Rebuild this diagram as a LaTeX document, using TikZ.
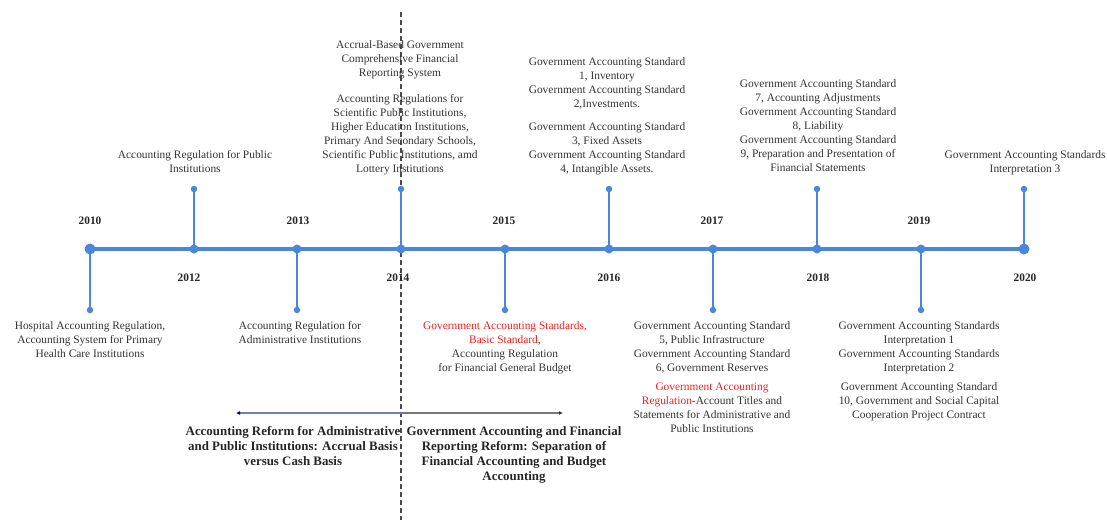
\documentclass[tikz,border=0pt]{standalone}
\usepackage{fontspec}
\setmainfont{Liberation Serif}
\usetikzlibrary{arrows.meta}

\definecolor{lineblue}{RGB}{74,134,218}
\definecolor{notered}{RGB}{238,32,32}
\definecolor{reformblue}{RGB}{112,128,178}
\definecolor{reformgray}{RGB}{120,120,120}

\tikzset{
    yeardot/.style={circle, fill=lineblue, minimum size=9pt, inner sep=0pt},
    bigdot/.style={circle, fill=lineblue, minimum size=11pt, inner sep=0pt},
    tipdot/.style={circle, fill=lineblue, minimum size=6.5pt, inner sep=0pt},
    stem/.style={lineblue, line width=2pt},
    yearlabel/.style={font=\fontsize{11.4}{14}\selectfont\bfseries, inner sep=0pt, text=black!85},
    note/.style={font=\fontsize{11.4}{14}\selectfont, align=center, inner sep=0pt, anchor=north, text=black!80},
    reform/.style={font=\fontsize{12.9}{15}\selectfont\bfseries, align=center, inner sep=0pt, anchor=north, text=black!85},
}

\begin{document}
\begin{tikzpicture}[x=1pt, y=-1pt]

\useasboundingbox (0,0) rectangle (1107,520);

% dashed divider
\coordinate (dtop) at (401,12);
\coordinate (dbot) at (401,520);
\draw[black!70, line width=1.2pt, dash pattern=on 5pt off 3pt] (dtop) -- (dbot);

% timeline points
\node[bigdot]  (p2010) at (90,249) {};
\node[yeardot] (p2012) at (194,249) {};
\node[yeardot] (p2013) at (297,249) {};
\node[yeardot] (p2014) at (401,249) {};
\node[yeardot] (p2015) at (505,249) {};
\node[yeardot] (p2016) at (609,249) {};
\node[yeardot] (p2017) at (713,249) {};
\node[yeardot] (p2018) at (817,249) {};
\node[yeardot] (p2019) at (921,249) {};
\node[bigdot]  (p2020) at (1024,249) {};

\draw[lineblue, line width=4pt] (p2010.center) -- (p2020.center);

% stem ends
\node[tipdot] (e2010) at (90,310) {};
\node[tipdot] (e2012) at (194,189) {};
\node[tipdot] (e2013) at (297,310) {};
\node[tipdot] (e2014) at (401,189) {};
\node[tipdot] (e2015) at (505,310) {};
\node[tipdot] (e2016) at (609,189) {};
\node[tipdot] (e2017) at (713,310) {};
\node[tipdot] (e2018) at (817,189) {};
\node[tipdot] (e2019) at (921,310) {};
\node[tipdot] (e2020) at (1024,189) {};

\draw[stem] (p2010.center) -- (e2010.center);
\draw[stem] (p2012.center) -- (e2012.center);
\draw[stem] (p2013.center) -- (e2013.center);
\draw[stem] (p2014.center) -- (e2014.center);
\draw[stem] (p2015.center) -- (e2015.center);
\draw[stem] (p2016.center) -- (e2016.center);
\draw[stem] (p2017.center) -- (e2017.center);
\draw[stem] (p2018.center) -- (e2018.center);
\draw[stem] (p2019.center) -- (e2019.center);
\draw[stem] (p2020.center) -- (e2020.center);

% years
\node[yearlabel] (y2010) at (90,221) {2010};
\node[yearlabel] (y2012) at (189,278) {2012};
\node[yearlabel] (y2013) at (298,221) {2013};
\node[yearlabel] (y2014) at (398,278) {2014};
\node[yearlabel] (y2015) at (504,221) {2015};
\node[yearlabel] (y2016) at (609,278) {2016};
\node[yearlabel] (y2017) at (712,221) {2017};
\node[yearlabel] (y2018) at (818,278) {2018};
\node[yearlabel] (y2019) at (919,221) {2019};
\node[yearlabel] (y2020) at (1025,278) {2020};

% events
\node[note] (t2010) at (90,321) {Hospital Accounting Regulation,\\Accounting System for Primary\\Health Care Institutions};
\node[note] (t2012) at (195,150) {Accounting Regulation for Public\\Institutions};
\node[note] (t2013) at (300,321) {Accounting Regulation for\\Administrative Institutions};
\node[note] (t2014) at (400,40) {Accrual-Based Government\\Comprehensive Financial\\Reporting System\\[12pt]
    Accounting Regulations for\\Scientific Public Institutions,\\Higher Education Institutions,\\Primary And Secondary Schools,\\Scientific Public Institutions, amd\\Lottery Institutions};
\node[note] (t2015) at (505,321) {\textcolor{notered}{Government Accounting Standards,}\\\textcolor{notered}{Basic Standard},\\Accounting Regulation\\for Financial General Budget};
\node[note] (t2016) at (607,57) {Government Accounting Standard\\1, Inventory\\Government Accounting Standard\\2,Investments.\\[9pt]
    Government Accounting Standard\\3, Fixed Assets\\Government Accounting Standard\\4, Intangible Assets.};
\node[note] (t2017) at (712,321) {Government Accounting Standard\\5, Public Infrastructure\\Government Accounting Standard\\6, Government Reserves\\[5pt]
    \textcolor{notered}{Government Accounting}\\\textcolor{notered}{Regulation}-Account Titles and\\Statements for Administrative and\\Public Institutions};
\node[note] (t2018) at (818,79) {Government Accounting Standard\\7, Accounting Adjustments\\Government Accounting Standard\\8, Liability\\Government Accounting Standard\\9, Preparation and Presentation of\\Financial Statements};
\node[note] (t2019) at (919,321) {Government Accounting Standards\\Interpretation 1\\Government Accounting Standards\\Interpretation 2\\[5pt]
    Government Accounting Standard\\10, Government and Social Capital\\Cooperation Project Contract};
\node[note] (t2020) at (1025,150) {Government Accounting Standards\\Interpretation 3};

% reform periods
\coordinate (rleft) at (236,413);
\coordinate (rright) at (563,413);
\node[circle, fill=black!75, minimum size=3pt, inner sep=0pt] (rmid) at (401,413) {};
\draw[reformblue, line width=1.2pt, -{Latex[length=4pt, width=4pt, color=blue!40!black]}] (rmid.center) -- (rleft);
\draw[reformgray, line width=1.2pt, -{Latex[length=4pt, width=4pt, color=black!80]}] (rmid.center) -- (rright);

\node[reform] (accrual) at (293,426) {Accounting Reform for Administrative\\and Public Institutions: Accrual Basis\\versus Cash Basis};
\node[reform] (separation) at (514,426) {Government Accounting and Financial\\Reporting Reform: Separation of\\Financial Accounting and Budget\\Accounting};

\end{tikzpicture}
\end{document}
